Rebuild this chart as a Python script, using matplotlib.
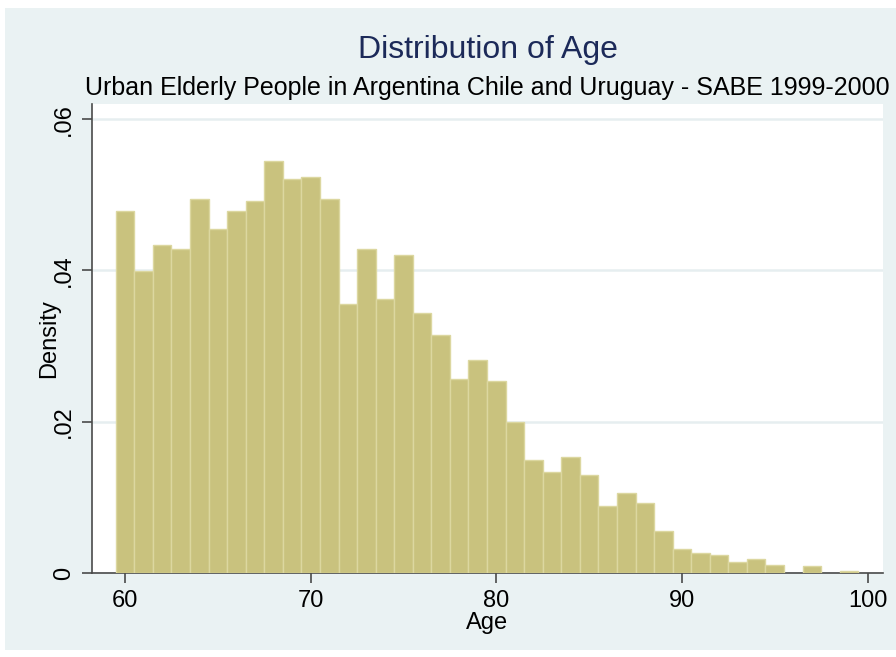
import numpy as np
import matplotlib
matplotlib.use("Agg")
import matplotlib.pyplot as plt
from matplotlib import font_manager
from matplotlib.patches import Rectangle

# Age distribution (density per 1-year bin)
ages = np.arange(60, 100)
density = [0.0478, 0.0399, 0.0434, 0.0428, 0.0495, 0.0455, 0.0478, 0.0492, 0.0545, 0.0521,
           0.0524, 0.0495, 0.0356, 0.0428, 0.0362, 0.0421, 0.0344, 0.0314, 0.0256, 0.0281,
           0.0254, 0.0200, 0.0149, 0.0133, 0.0153, 0.0129, 0.0089, 0.0106, 0.0092, 0.0055,
           0.0032, 0.0026, 0.0024, 0.0015, 0.0018, 0.0011, 0.0, 0.0009, 0.0, 0.0003]
x_ticks = [60, 70, 80, 90, 100]
y_ticks = [0, 0.02, 0.04, 0.06]
y_tick_labels = ["0", ".02", ".04", ".06"]

title = "Distribution of Age"
subtitle = "Urban Elderly People in Argentina Chile and Uruguay - SABE 1999-2000"

# condensed Helvetica-like face if available
names = {f.name for f in font_manager.fontManager.ttflist}
family = "Liberation Sans Narrow" if "Liberation Sans Narrow" in names else "Liberation Sans"
plt.rcParams["font.family"] = [family, "DejaVu Sans"]

W, H = 896, 657
fig = plt.figure(figsize=(W / 100, H / 100), dpi=100)
fig.patch.set_facecolor("white")
fig.patches.append(Rectangle((5 / W, 1 - 650 / H), (W - 5) / W, (650 - 8) / H,
                             transform=fig.transFigure, facecolor="#EAF2F3",
                             edgecolor="none", zorder=-1))

left, right, top, bottom = 92, 883, 104, 573
ax = fig.add_axes([left / W, 1 - bottom / H, (right - left) / W, (bottom - top) / H])
ax.set_facecolor("white")

# empty bins draw nothing
dens = np.array(density)
keep = dens > 0
ax.bar(ages[keep], dens[keep], width=1.0, align="center", color="#C9C27E",
       edgecolor="#DCD7A0", linewidth=1.0, zorder=3)

ax.set_xlim(58.22, 100.83)
ax.set_ylim(0, 0.0620)
ax.set_xticks(x_ticks)
ax.set_yticks(y_ticks)
ax.set_yticklabels(y_tick_labels, rotation=90, va="center")
ax.grid(axis="y", color="#E6EEF0", linewidth=1.8, zorder=1)
ax.set_axisbelow(True)

for s in ["top", "right"]:
    ax.spines[s].set_visible(False)
for s in ["left", "bottom"]:
    ax.spines[s].set_color("#4a4a4a")
    ax.spines[s].set_linewidth(1.2)
ax.tick_params(axis="both", length=7, width=1.2, color="#4a4a4a", labelsize=17, pad=5)

ax.set_xlabel("Age", fontsize=17, labelpad=0)
ax.set_ylabel("Density", fontsize=17, labelpad=-5)

fig.text(488 / W, 1 - 50 / H, title, ha="center", va="center", fontsize=23, color="#1C2A59")
fig.text(487 / W, 1 - 88 / H, subtitle, ha="center", va="center", fontsize=18, color="black")

fig.savefig("out.png", dpi=100)
